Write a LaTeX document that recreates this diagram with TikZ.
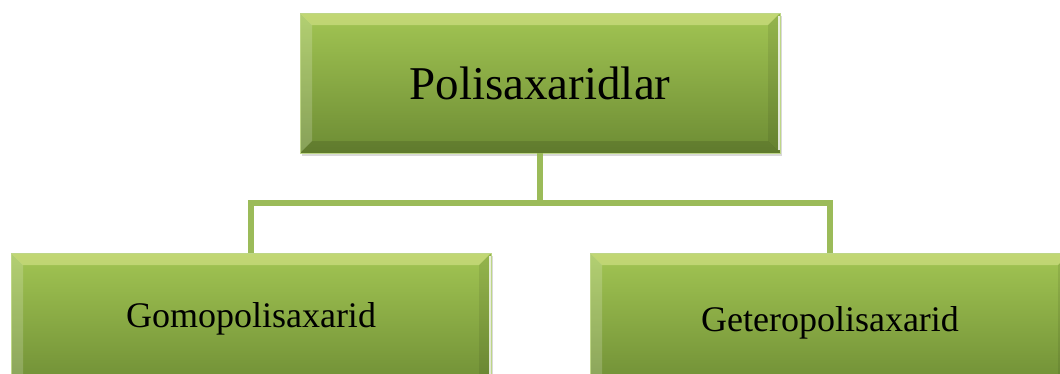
\documentclass[tikz,border=0pt]{standalone}
\usepackage{fontspec}
\setmainfont{Liberation Serif}
\usetikzlibrary{calc,shadows}

\definecolor{leaftop}{HTML}{A2C553}
\definecolor{leafbot}{HTML}{6D8C34}
\definecolor{linkgreen}{HTML}{9BBB59}

\tikzset{
	bevelbox/.style={rectangle, minimum width=480pt, minimum height=140pt, inner sep=0pt,
		top color=leaftop, bottom color=leafbot, draw=leaftop!70!white, line width=0.6pt,
		drop shadow={shadow xshift=1.5pt, shadow yshift=-3pt, opacity=0.3},
		path picture={
			\coordinate (nw) at (path picture bounding box.north west);
			\coordinate (ne) at (path picture bounding box.north east);
			\coordinate (sw) at (path picture bounding box.south west);
			\coordinate (se) at (path picture bounding box.south east);
			\fill[yellow!30!white,opacity=0.35] (nw) -- (ne) -- ($(ne)+(-12pt,-12pt)$) -- ($(nw)+(12pt,-12pt)$) -- cycle;
			\fill[white,opacity=0.18] (nw) -- ($(nw)+(12pt,-12pt)$) -- ($(sw)+(12pt,12pt)$) -- (sw) -- cycle;
			\fill[black,opacity=0.08] (ne) -- ($(ne)+(-12pt,-12pt)$) -- ($(se)+(-12pt,12pt)$) -- (se) -- cycle;
			\draw[white,line width=1.2pt,opacity=0.8] ($(ne)+(-1pt,-3pt)$) -- ($(se)+(-1pt,3pt)$);
			\fill[black,opacity=0.12] (sw) -- (se) -- ($(se)+(-12pt,12pt)$) -- ($(sw)+(12pt,12pt)$) -- cycle;
		}},
	link/.style={draw=linkgreen, line width=6.5pt}
}

\begin{document}
\begin{tikzpicture}[x=1pt,y=-1pt]
		%%%%% START %%%%%
		
		\clip (0,0) rectangle (1060,373);
		
		% boxes
		\node[bevelbox] (root) at (540,83) {\fontsize{47}{52}\selectfont Polisaxaridlar};
		\node[bevelbox] (homo) at (251,323) {\fontsize{36}{40}\selectfont\raisebox{16pt}{Gomopolisaxarid}};
		\node[bevelbox] (hetero) at (830,323) {\fontsize{36}{40}\selectfont\raisebox{8pt}{Geteropolisaxarid}};
		
		% connectors
		\coordinate (fork) at (540,203);
		\draw[link] (root.south) -- (fork);
		\draw[link] (homo.north) |- (fork) -| (hetero.north);
		
		%%%%% END %%%%%
	\end{tikzpicture}
\end{document}
